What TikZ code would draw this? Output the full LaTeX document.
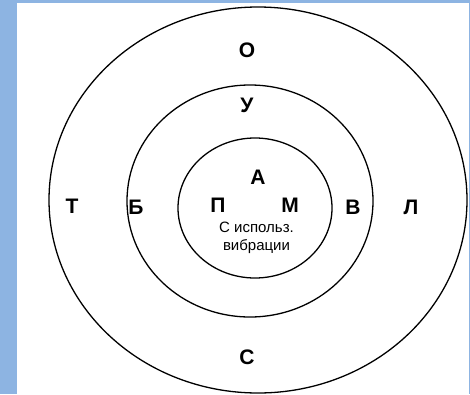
\documentclass[tikz,border=0pt]{standalone}
\usepackage{fontspec}
\setmainfont{Liberation Sans}
\definecolor{frameblue}{RGB}{141,180,226}
\tikzset{
  framebar/.style={fill=frameblue, draw=none},
  ring/.style={draw=black, line width=1.3pt},
  zonelabel/.style={font=\fontsize{21}{21}\selectfont\bfseries, inner sep=0pt},
  notelabel/.style={font=\fontsize{15}{18}\selectfont, align=center, inner sep=0pt},
}
\begin{document}
\begin{tikzpicture}[x=1pt,y=-1pt]
\useasboundingbox (0,0) rectangle (470,394);
\fill[white] (0,0) rectangle (470,394);
\fill[framebar] (0,0) rectangle (17,394);
\fill[framebar] (0,0) rectangle (470,3);
\fill[framebar] (468.5,0) rectangle (470,394);
\draw[ring] (258,200) ellipse (209 and 193);
\draw[ring] (250,201) ellipse (123 and 116);
\draw[ring] (255,208) ellipse (77 and 70);
\node[zonelabel] (o) at (247,50) {О};
\node[zonelabel] (u) at (247,105) {У};
\node[zonelabel] (s) at (247,357) {С};
\node[zonelabel] (t) at (72,206) {Т};
\node[zonelabel] (b) at (136,207) {Б};
\node[zonelabel] (v) at (353,207) {В};
\node[zonelabel] (l) at (411,207) {Л};
\node[zonelabel] (a) at (258,177) {А};
\node[zonelabel] (p) at (218,205) {П};
\node[zonelabel] (m) at (290,205) {М};
\node[notelabel] (vib) at (256.5,238) {С использ.\\вибрации};
\end{tikzpicture}
\end{document}
